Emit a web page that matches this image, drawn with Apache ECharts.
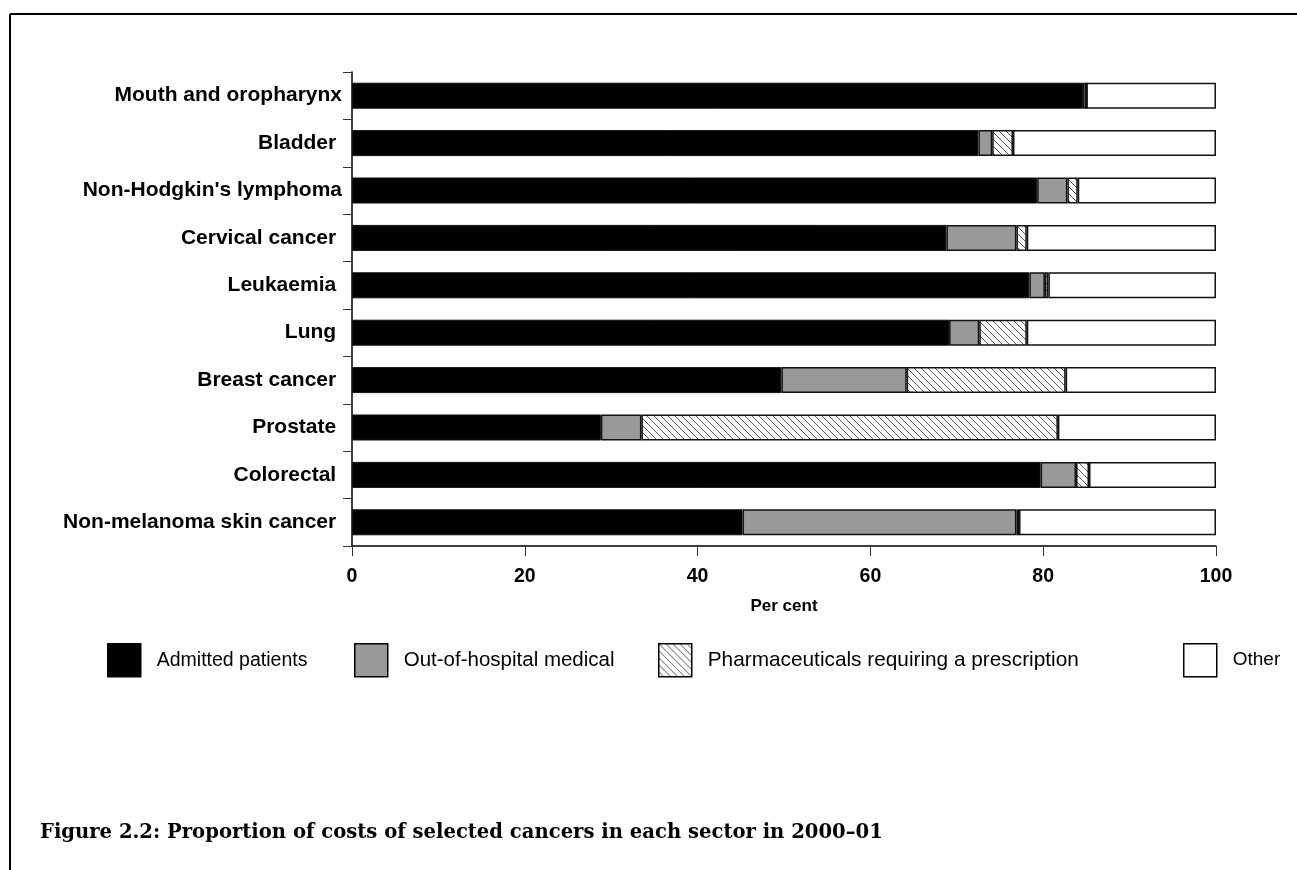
<!DOCTYPE html>
<html>
<head>
<meta charset="utf-8">
<script src="https://cdn.jsdelivr.net/npm/echarts@6/dist/echarts.min.js"></script>
<style>
html,body{margin:0;padding:0;background:#fff;}
#chart{width:1297px;height:870px;}
</style>
</head>
<body>
<div id="chart"></div>
<script>
const categories = ["Mouth and oropharynx", "Bladder ", "Non-Hodgkin's lymphoma", "Cervical cancer ", "Leukaemia ", "Lung ", "Breast cancer ", "Prostate ", "Colorectal ", "Non-melanoma skin cancer "];
const seriesNames = ["Admitted patients", "Out-of-hospital medical", "Pharmaceuticals requiring a prescription", "Other"];
const admitted = [84.6, 72.5, 79.3, 68.8, 78.4, 69.1, 49.7, 28.8, 79.7, 45.2];
const outOfHospital = [0.4, 1.6, 3.5, 8.1, 1.8, 3.5, 14.5, 4.7, 4.1, 31.7];
const pharma = [0.0, 2.4, 1.2, 1.2, 0.4, 5.5, 18.4, 48.2, 1.5, 0.3];
const other = [15.0, 23.5, 16.0, 21.9, 19.4, 21.9, 17.4, 18.3, 14.7, 22.8];
const xTicks = [0, 20, 40, 60, 80, 100];
const titleText = "Figure 2.2: Proportion of costs of selected cancers in each sector in 2000\u201301";

// hatch pattern
const pc = document.createElement('canvas');
pc.width = 7; pc.height = 7;
const ctx = pc.getContext('2d');
ctx.fillStyle = '#fff'; ctx.fillRect(0,0,7,7);
ctx.strokeStyle = '#555'; ctx.lineWidth = 1;
ctx.beginPath();
ctx.moveTo(-1,-1); ctx.lineTo(8,8);
ctx.moveTo(-8,-1); ctx.lineTo(1,8);
ctx.moveTo(6,-1); ctx.lineTo(15,8);
ctx.stroke();
const hatch = {image: pc, repeat: 'repeat'};

const chart = echarts.init(document.getElementById('chart'), null, {renderer: 'canvas'});
const fills = ['#000000', '#999999', hatch, '#ffffff'];
const dataSets = [admitted, outOfHospital, pharma, other];
const legendLefts = [102, 349, 653, 1178];
const legendFont = [19.5, 20.5, 20.8, 19];

const series = seriesNames.map((n, i) => ({
  name: n,
  type: 'bar',
  stack: 'total',
  barWidth: 26,
  data: dataSets[i],
  itemStyle: {color: fills[i], borderColor: '#111', borderWidth: i === 0 ? 1 : 1.5},
  emphasis: {disabled: true}
}));

const legends = seriesNames.map((n, i) => ({
  data: [n],
  left: legendLefts[i],
  top: 638,
  icon: 'rect',
  itemWidth: 33,
  itemHeight: 33,
  selectedMode: false,
  textStyle: {fontFamily: 'Liberation Sans', fontSize: legendFont[i], color: '#000', padding: [0, 0, 0, 11]},
  itemStyle: {borderColor: '#000', borderWidth: 1.5}
}));

chart.setOption({
  animation: false,
  backgroundColor: '#fff',
  grid: {left: 352, right: 81, top: 72, bottom: 324, containLabel: false},
  legend: legends,
  xAxis: {
    type: 'value', min: 0, max: 100, interval: 20,
    axisLine: {show: true, lineStyle: {color: '#000', width: 1.5}},
    axisTick: {show: true, length: 10, lineStyle: {color: '#333', width: 1}},
    splitLine: {show: false},
    axisLabel: {margin: 21, fontFamily: 'Liberation Sans', fontWeight: 'bold', fontSize: 19.5, color: '#000',
      formatter: v => xTicks.includes(v) ? String(v) : ''},
    name: 'Per cent', nameLocation: 'middle', nameGap: 52,
    nameTextStyle: {fontFamily: 'Liberation Sans', fontWeight: 'bold', fontSize: 17, color: '#000'}
  },
  yAxis: {
    type: 'category', data: categories, inverse: true,
    axisLine: {show: true, lineStyle: {color: '#000', width: 1.5}},
    axisTick: {show: true, length: 9, lineStyle: {color: '#333', width: 1}},
    axisLabel: {margin: 10, fontFamily: 'Liberation Sans', fontWeight: 'bold', fontSize: 21, color: '#000'}
  },
  series: series,
  graphic: [
    {type: 'line', shape: {x1: 10, y1: 14, x2: 1297, y2: 14}, style: {stroke: '#000', lineWidth: 2}},
    {type: 'line', shape: {x1: 10, y1: 14, x2: 10, y2: 870}, style: {stroke: '#000', lineWidth: 2}},
    {type: 'text', left: 40, top: 823, style: {text: titleText, font: 'bold 19.6px "DejaVu Serif"', fill: '#000'}}
  ]
});
</script>
</body>
</html>
